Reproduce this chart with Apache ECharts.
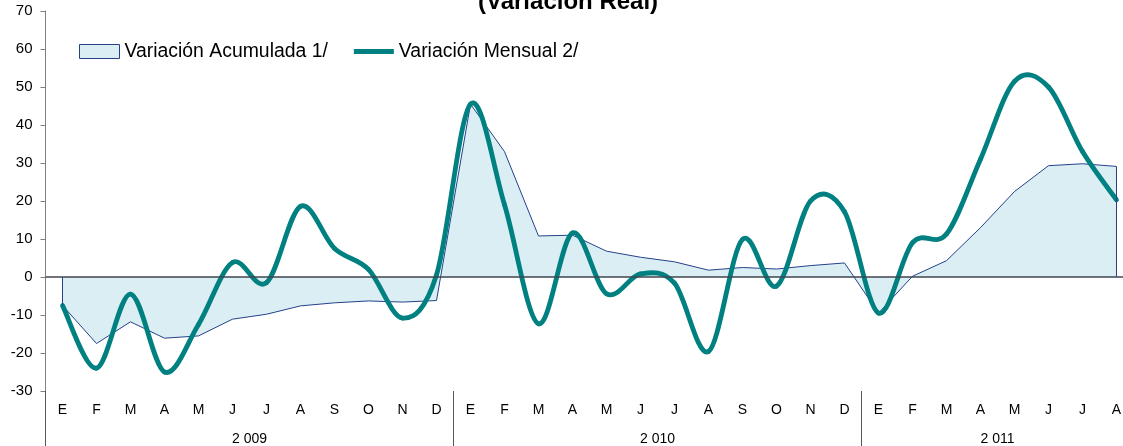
<!DOCTYPE html>
<html>
<head>
<meta charset="utf-8">
<title>Variación Real</title>
<script src="https://cdn.jsdelivr.net/npm/echarts@6/dist/echarts.min.js"></script>
<style>
    html, body { margin: 0; padding: 0; background: #fff; }
    #main { width: 1123px; height: 446px; }
</style>
</head>
<body>
<div id="main"></div>
<script>
// months (E = enero ... D = diciembre), 2009 - ago 2011
var monthLabels = ['E','F','M','A','M','J','J','A','S','O','N','D',
                   'E','F','M','A','M','J','J','A','S','O','N','D',
                   'E','F','M','A','M','J','J','A'];
var yearLabels = ['2 009', '2 010', '2 011'];
var monthsPerYear = [12, 12, 8];

var acumulada = [-7.5, -17.5, -11.8, -16.1, -15.5, -11.1, -9.8, -7.6, -6.8, -6.3, -6.6, -6.2,
                 45.5, 33.0, 10.8, 11.0, 6.8, 5.2, 4.0, 1.8, 2.5, 2.1, 3.0, 3.7,
                 -9.5, 0.2, 4.3, 13.0, 22.5, 29.3, 29.8, 29.1];
var mensual = [-7.5, -24.0, -4.5, -25.0, -12.5, 3.8, -1.5, 18.6, 7.5, 2.0, -10.8, 0.5,
               45.5, 19.0, -12.3, 11.6, -4.4, 0.8, -1.6, -19.6, 9.9, -2.4, 20.0, 17.2,
               -9.5, 9.0, 11.3, 31.0, 51.5, 50.0, 33.0, 20.3];

var yMin = -30, yMax = 70, yStep = 10;

// year label centers and separators, in category index units
var yearCenters = [];
var yearBreaks = [-0.5];
var start = 0;
monthsPerYear.forEach(function (n) {
    yearCenters.push(start + (n - 1) / 2);
    start += n;
    if (start < monthLabels.length) yearBreaks.push(start - 0.5);
});

var baseFont = 'Liberation Sans, Arial, sans-serif';
var last = acumulada.length - 1;
var tealColor = '#008080';
var edgeStyle = { color: '#24418a', width: 1, type: 'solid' };

// excel-like smoothed line (catmull-rom through the points)
function renderSmoothLine(params, api) {
    var ctx = params.context;
    if (!ctx.pts) ctx.pts = [];
    ctx.pts[params.dataIndex] = api.coord([api.value(0), api.value(1)]);
    if (params.dataIndex !== mensual.length - 1) return null;

    var pts = ctx.pts;
    var children = [];
    for (var i = 0; i < pts.length - 1; i++) {
        var p0 = pts[i - 1] || pts[i];
        var p1 = pts[i];
        var p2 = pts[i + 1];
        var p3 = pts[i + 2] || pts[i + 1];
        children.push({
            type: 'bezierCurve',
            shape: {
                x1: p1[0], y1: p1[1],
                x2: p2[0], y2: p2[1],
                cpx1: p1[0] + (p2[0] - p0[0]) / 6, cpy1: p1[1] + (p2[1] - p0[1]) / 6,
                cpx2: p2[0] - (p3[0] - p1[0]) / 6, cpy2: p2[1] - (p3[1] - p1[1]) / 6
            },
            style: { fill: 'none', stroke: tealColor, lineWidth: 4.8, lineCap: 'round' }
        });
    }
    return { type: 'group', children: children };
}

var chartDom = document.getElementById('main');
var myChart = echarts.init(chartDom);
var option = {
    animation: false,
    title: {
        text: '(Variación Real)',
        left: 478,
        top: -10,
        padding: 0,
        textStyle: { fontFamily: baseFont, fontSize: 24, fontWeight: 'bold', color: '#000' }
    },
    legend: {
        left: 79,
        top: 42,
        padding: 0,
        itemGap: 26,
        itemWidth: 40,
        itemHeight: 14,
        textStyle: { fontFamily: baseFont, fontSize: 19.4, color: '#000' },
        data: [
            { name: 'Variación Acumulada 1/', icon: 'rect',
              itemStyle: { color: '#daeef3', borderColor: '#24418a', borderWidth: 1 } },
            { name: 'Variación Mensual 2/', icon: 'path://M0,0H40V4.8H0Z',
              itemStyle: { color: tealColor } }
        ]
    },
    grid: {
        left: 45.5,
        top: 11,
        right: -10.5,
        height: 380,
        containLabel: false,
        outerBoundsMode: 'none'
    },
    xAxis: [{
        type: 'category',
        data: monthLabels,
        boundaryGap: true,
        position: 'bottom',
        axisLine: { show: false, onZero: false },
        axisTick: { show: false },
        splitLine: { show: false },
        axisLabel: { interval: 0, margin: 12, fontFamily: baseFont, fontSize: 14, color: '#000' }
    }, {
        // second level: years with separators
        type: 'value',
        min: -0.5,
        max: monthLabels.length - 0.5,
        position: 'bottom',
        offset: 0,
        axisLine: { show: false, onZero: false },
        splitLine: { show: false },
        axisTick: {
            show: true,
            customValues: yearBreaks,
            length: 56,
            lineStyle: { color: '#555', width: 1 }
        },
        axisLabel: {
            customValues: yearCenters,
            margin: 41,
            fontFamily: baseFont,
            fontSize: 14,
            color: '#000',
            formatter: function (v) {
                var i = yearCenters.indexOf(v);
                return i >= 0 ? yearLabels[i] : '';
            }
        }
    }],
    yAxis: {
        type: 'value',
        min: yMin,
        max: yMax,
        interval: yStep,
        axisLine: { show: true, onZero: false, lineStyle: { color: '#808080', width: 1 } },
        axisTick: { show: true, length: 5, lineStyle: { color: '#808080' } },
        splitLine: { show: false },
        axisLabel: { margin: 13, fontFamily: baseFont, fontSize: 15, color: '#000' }
    },
    series: [{
        name: 'Variación Acumulada 1/',
        type: 'line',
        data: acumulada,
        showSymbol: false,
        symbol: 'none',
        z: 1,
        lineStyle: { color: '#24418a', width: 1 },
        itemStyle: { color: '#daeef3', borderColor: '#24418a' },
        areaStyle: { color: '#daeef3', opacity: 1 },
        markLine: {
            silent: true,
            symbol: ['none', 'none'],
            label: { show: false },
            animation: false,
            data: [
                { yAxis: 0, lineStyle: { color: '#3f4651', width: 1.5, type: 'solid' } },
                [{ coord: [0, 0], lineStyle: edgeStyle }, { coord: [0, acumulada[0]] }],
                [{ coord: [last, 0], lineStyle: edgeStyle }, { coord: [last, acumulada[last]] }]
            ]
        }
    }, {
        name: 'Variación Mensual 2/',
        type: 'custom',
        coordinateSystem: 'cartesian2d',
        xAxisIndex: 0,
        yAxisIndex: 0,
        data: mensual.map(function (v, i) { return [i, v]; }),
        encode: { x: 0, y: 1 },
        z: 3,
        silent: true,
        itemStyle: { color: tealColor },
        renderItem: renderSmoothLine
    }]
};

myChart.setOption(option);
</script>
</body>
</html>
